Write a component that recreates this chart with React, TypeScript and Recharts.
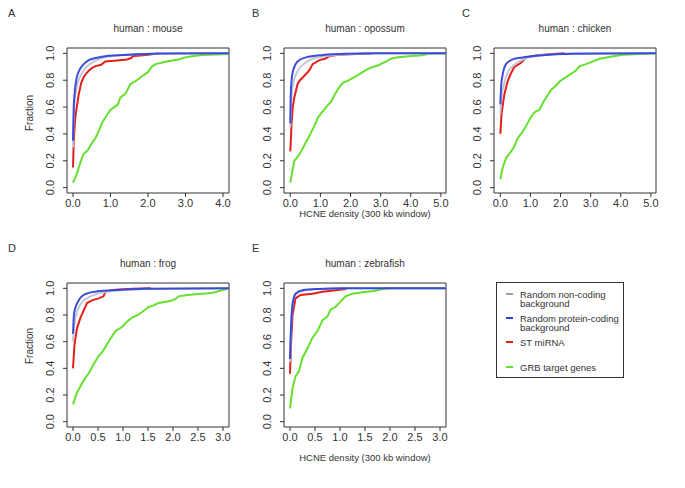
import { Line, LineChart, ReferenceArea, XAxis, YAxis } from 'recharts'

type Pt = [number, number]

// ECDF curves, one array per panel and series
const mouseGrey: Pt[] = [[0, 0.3], [0.03, 0.6], [0.08, 0.72], [0.15, 0.8], [0.25, 0.86], [0.4, 0.91], [0.6, 0.945], [0.85, 0.97], [1.2, 0.985], [1.8, 0.994], [2.6, 0.999], [4.16, 1]]
const mouseBlue: Pt[] = [[0, 0.35], [0.02, 0.6], [0.04, 0.69], [0.1, 0.82], [0.18, 0.88], [0.24, 0.905], [0.42, 0.95], [0.6, 0.965], [0.77, 0.975], [1.1, 0.985], [1.5, 0.99], [2.4, 0.999], [4.16, 1]]
const mouseRed: Pt[] = [[0, 0.15], [0.02, 0.35], [0.06, 0.52], [0.1, 0.6], [0.15, 0.69], [0.22, 0.78], [0.28, 0.82], [0.35, 0.85], [0.42, 0.87], [0.5, 0.89], [0.6, 0.905], [0.75, 0.915], [0.86, 0.94], [1.1, 0.945], [1.44, 0.955], [1.55, 0.965], [1.6, 0.98], [1.8, 0.985], [2.0, 0.99], [2.3, 1]]
const mouseGreen: Pt[] = [[0, 0.037], [0.1, 0.1], [0.2, 0.19], [0.28, 0.25], [0.4, 0.28], [0.5, 0.33], [0.6, 0.37], [0.7, 0.43], [0.77, 0.48], [0.88, 0.53], [1.0, 0.58], [1.1, 0.6], [1.2, 0.62], [1.26, 0.67], [1.4, 0.7], [1.53, 0.77], [1.7, 0.8], [1.84, 0.83], [2.0, 0.86], [2.1, 0.9], [2.2, 0.92], [2.5, 0.94], [2.82, 0.955], [3.0, 0.97], [3.08, 0.975], [3.44, 0.988], [4.16, 0.995]]

const opossumGrey: Pt[] = [[0, 0.45], [0.03, 0.65], [0.1, 0.78], [0.25, 0.87], [0.5, 0.93], [0.8, 0.965], [1.2, 0.98], [2, 0.995], [3, 1], [5.17, 1]]
const opossumBlue: Pt[] = [[0, 0.48], [0.01, 0.65], [0.03, 0.77], [0.1, 0.88], [0.24, 0.94], [0.52, 0.97], [1.08, 0.988], [1.86, 0.997], [3, 1], [5.17, 1]]
const opossumRed: Pt[] = [[0, 0.27], [0.04, 0.47], [0.08, 0.6], [0.13, 0.67], [0.24, 0.77], [0.32, 0.8], [0.41, 0.82], [0.58, 0.86], [0.65, 0.88], [0.74, 0.92], [0.97, 0.95], [1.15, 0.96], [1.3, 0.98], [1.63, 0.99], [2.74, 1]]
const opossumGreen: Pt[] = [[0, 0.037], [0.13, 0.2], [0.25, 0.23], [0.36, 0.27], [0.5, 0.33], [0.63, 0.385], [0.8, 0.46], [0.91, 0.52], [1.05, 0.56], [1.19, 0.6], [1.35, 0.64], [1.47, 0.69], [1.6, 0.74], [1.74, 0.78], [1.95, 0.8], [2.19, 0.83], [2.4, 0.86], [2.63, 0.89], [2.9, 0.91], [3.19, 0.94], [3.35, 0.96], [3.52, 0.97], [4.0, 0.98], [4.3, 0.985], [4.63, 0.997], [5.17, 1]]

const chickenGrey: Pt[] = [[0, 0.55], [0.03, 0.66], [0.1, 0.75], [0.25, 0.86], [0.5, 0.92], [0.8, 0.96], [1.2, 0.98], [2, 0.995], [3, 1], [5.17, 1]]
const chickenBlue: Pt[] = [[0, 0.62], [0.02, 0.73], [0.06, 0.82], [0.19, 0.92], [0.41, 0.955], [0.74, 0.97], [1.3, 0.985], [2.4, 0.997], [5.17, 1]]
const chickenRed: Pt[] = [[0, 0.4], [0.04, 0.55], [0.13, 0.69], [0.24, 0.79], [0.35, 0.85], [0.47, 0.9], [0.69, 0.93], [0.86, 0.97], [1.19, 0.985], [1.6, 0.993], [2.13, 1]]
const chickenGreen: Pt[] = [[0, 0.062], [0.08, 0.15], [0.19, 0.22], [0.36, 0.27], [0.45, 0.3], [0.58, 0.37], [0.72, 0.41], [0.86, 0.46], [1.0, 0.52], [1.13, 0.56], [1.3, 0.58], [1.41, 0.63], [1.55, 0.68], [1.69, 0.73], [1.85, 0.76], [1.97, 0.79], [2.15, 0.82], [2.3, 0.84], [2.5, 0.87], [2.63, 0.905], [2.85, 0.92], [3.08, 0.94], [3.3, 0.96], [3.52, 0.97], [3.8, 0.98], [4.08, 0.99], [5.17, 1]]

const frogGrey: Pt[] = [[0, 0.6], [0.02, 0.7], [0.05, 0.78], [0.15, 0.88], [0.3, 0.93], [0.5, 0.96], [0.8, 0.98], [1.5, 0.995], [3.12, 1]]
const frogBlue: Pt[] = [[0, 0.66], [0.01, 0.75], [0.03, 0.83], [0.1, 0.9], [0.21, 0.95], [0.45, 0.975], [0.78, 0.985], [1.45, 0.997], [3.12, 1]]
const frogRed: Pt[] = [[0, 0.4], [0.03, 0.58], [0.08, 0.7], [0.15, 0.78], [0.21, 0.83], [0.28, 0.89], [0.38, 0.91], [0.51, 0.925], [0.61, 0.94], [0.65, 0.975], [0.85, 0.99], [1.2, 0.996], [1.55, 1]]
const frogGreen: Pt[] = [[0, 0.13], [0.08, 0.22], [0.17, 0.28], [0.25, 0.33], [0.33, 0.37], [0.41, 0.43], [0.51, 0.49], [0.6, 0.53], [0.68, 0.58], [0.78, 0.64], [0.85, 0.68], [0.98, 0.71], [1.08, 0.75], [1.18, 0.78], [1.3, 0.8], [1.41, 0.83], [1.51, 0.86], [1.6, 0.87], [1.71, 0.89], [1.95, 0.905], [2.05, 0.92], [2.11, 0.94], [2.3, 0.95], [2.45, 0.955], [2.71, 0.963], [2.85, 0.97], [2.91, 0.98], [3.08, 0.995], [3.12, 1]]

const zebrafishGrey: Pt[] = [[0, 0.45], [0.02, 0.7], [0.05, 0.87], [0.1, 0.95], [0.25, 0.98], [0.6, 0.995], [1, 1], [3.12, 1]]
const zebrafishBlue: Pt[] = [[0, 0.47], [0.01, 0.6], [0.02, 0.7], [0.05, 0.875], [0.11, 0.96], [0.25, 0.985], [0.58, 0.995], [1.11, 1], [3.12, 1]]
const zebrafishRed: Pt[] = [[0, 0.36], [0.02, 0.58], [0.05, 0.8], [0.11, 0.925], [0.21, 0.95], [0.45, 0.96], [0.65, 0.975], [0.78, 0.98], [1.11, 0.995], [1.12, 1]]
const zebrafishGreen: Pt[] = [[0, 0.1], [0.05, 0.25], [0.11, 0.34], [0.18, 0.38], [0.25, 0.48], [0.35, 0.55], [0.45, 0.63], [0.55, 0.68], [0.65, 0.76], [0.75, 0.79], [0.81, 0.84], [0.91, 0.86], [1.01, 0.9], [1.11, 0.94], [1.25, 0.96], [1.45, 0.97], [1.68, 0.98], [1.78, 0.99], [1.98, 1], [3.12, 1]]

const yTicks = [0, 0.2, 0.4, 0.6, 0.8, 1.0]
const ticks5 = [0, 1, 2, 3, 4, 5]
const ticks4 = [0, 1, 2, 3, 4]
const ticksHalf = [0, 0.5, 1, 1.5, 2, 2.5, 3]

const legendLabels = [['Random non-coding', 'background'], ['Random protein-coding', 'background'], ['ST miRNA'], ['GRB target genes']]
const seriesColors = ['#c4c6d6', '#2b3fd8', '#e3201c', '#66e02e']
const legendColors = ['#9a9a9a', '#2b3fd8', '#e3201c', '#66e02e']

const font = '"Liberation Sans", Arial, sans-serif'
const ink = '#333'

interface PanelProps {
  letter: string
  title: string
  box: { l: number; r: number; t: number; b: number }
  xDomain: [number, number]
  xTicks: number[]
  series: Pt[][]
}

const toRows = (pts: Pt[]) => pts.map(([x, y]) => ({ x, y }))

function YTick({ x, y, payload }: any) {
  const cx = x - 11
  return (
    <text x={cx} y={y} transform={`rotate(-90 ${cx} ${y})`} textAnchor="middle" dominantBaseline="central" fontSize={11} fill={ink} fontFamily={font}>
      {Number(payload.value).toFixed(1)}
    </text>
  )
}

function XTick({ x, y, payload }: any) {
  return (
    <text x={x} y={y + 4} textAnchor="middle" dominantBaseline="central" fontSize={11} fill={ink} fontFamily={font}>
      {Number(payload.value).toFixed(1)}
    </text>
  )
}

function Panel({ letter, title, box, xDomain, xTicks, series }: PanelProps) {
  const w = box.r - box.l
  const h = box.b - box.t
  const order = [3, 2, 0, 1]
  return (
    <>
      <div style={{ position: 'absolute', left: box.l - 60, top: box.t - 10 }}>
        <LineChart width={w + 70} height={h + 40} margin={{ top: 10, right: 10, left: 0, bottom: 0 }}>
          <XAxis type="number" dataKey="x" domain={xDomain} ticks={xTicks} allowDataOverflow axisLine={false} tickSize={4} tickLine={{ stroke: ink }} tick={<XTick />} height={30} interval={0} />
          <YAxis type="number" domain={[-0.04, 1.04]} ticks={yTicks} allowDataOverflow axisLine={false} tickSize={4} tickLine={{ stroke: ink }} tick={<YTick />} width={60} interval={0} />
          <ReferenceArea x1={xDomain[0]} x2={xDomain[1]} y1={-0.04} y2={1.04} fill="none" fillOpacity={0} stroke={ink} strokeWidth={1} ifOverflow="visible" />
          {order.map((i) => (
            <Line
              key={i}
              data={toRows(series[i])}
              dataKey="y"
              type={i < 2 ? 'monotone' : 'linear'}
              stroke={seriesColors[i]}
              strokeOpacity={i === 1 ? 0.92 : 1}
              strokeWidth={2}
              dot={false}
              activeDot={false}
              isAnimationActive={false}
            />
          ))}
        </LineChart>
      </div>
      <div style={{ position: 'absolute', left: letter === 'A' || letter === 'D' ? 8 : box.l - 32, top: box.t - 41, fontSize: 11, color: ink }}>{letter}</div>
      <div style={{ position: 'absolute', left: box.l, width: w, top: box.t - 25, textAlign: 'center', fontSize: 10, color: ink }}>{title}</div>
    </>
  )
}

export default function App() {
  return (
    <div style={{ position: 'absolute', left: 0, top: 0, width: 685, height: 488, background: '#fff', fontFamily: font, overflow: 'hidden' }}>
      <Panel letter="A" title="human : mouse" box={{ l: 67, r: 229, t: 48, b: 193 }} xDomain={[-0.16, 4.16]} xTicks={ticks4} series={[mouseGrey, mouseBlue, mouseRed, mouseGreen]} />
      <Panel letter="B" title="human : opossum" box={{ l: 284, r: 446, t: 48, b: 193 }} xDomain={[-0.21, 5.17]} xTicks={ticks5} series={[opossumGrey, opossumBlue, opossumRed, opossumGreen]} />
      <Panel letter="C" title="human : chicken" box={{ l: 494, r: 656, t: 48, b: 193 }} xDomain={[-0.21, 5.17]} xTicks={ticks5} series={[chickenGrey, chickenBlue, chickenRed, chickenGreen]} />
      <Panel letter="D" title="human : frog" box={{ l: 67, r: 229, t: 283, b: 427 }} xDomain={[-0.12, 3.12]} xTicks={ticksHalf} series={[frogGrey, frogBlue, frogRed, frogGreen]} />
      <Panel letter="E" title="human : zebrafish" box={{ l: 284, r: 446, t: 283, b: 427 }} xDomain={[-0.12, 3.12]} xTicks={ticksHalf} series={[zebrafishGrey, zebrafishBlue, zebrafishRed, zebrafishGreen]} />

      <svg width={685} height={488} style={{ position: 'absolute', left: 0, top: 0, pointerEvents: 'none' }}>
        <text x={29} y={113} transform="rotate(-90 29 113)" textAnchor="middle" dominantBaseline="central" fontSize={10} fill={ink} fontFamily={font}>Fraction</text>
        <text x={29} y={346} transform="rotate(-90 29 346)" textAnchor="middle" dominantBaseline="central" fontSize={10} fill={ink} fontFamily={font}>Fraction</text>
        <text x={365} y={213} textAnchor="middle" dominantBaseline="central" fontSize={9.5} fill={ink} fontFamily={font}>HCNE density (300 kb window)</text>
        <text x={365} y={457} textAnchor="middle" dominantBaseline="central" fontSize={9.5} fill={ink} fontFamily={font}>HCNE density (300 kb window)</text>

        <rect x={496.5} y={282.5} width={127} height={95} fill="none" stroke={ink} strokeWidth={1} />
        {legendLabels.map((lines, i) => {
          const rowY = [294, 318, 342, 367][i]
          return (
            <g key={i}>
              <line x1={506} x2={513} y1={rowY} y2={rowY} stroke={legendColors[i]} strokeWidth={2} />
              {lines.map((t, j) => (
                <text key={j} x={520} y={rowY + j * 9.5} dominantBaseline="central" fontSize={9.5} fill={ink} fontFamily={font}>{t}</text>
              ))}
            </g>
          )
        })}
      </svg>
    </div>
  )
}
